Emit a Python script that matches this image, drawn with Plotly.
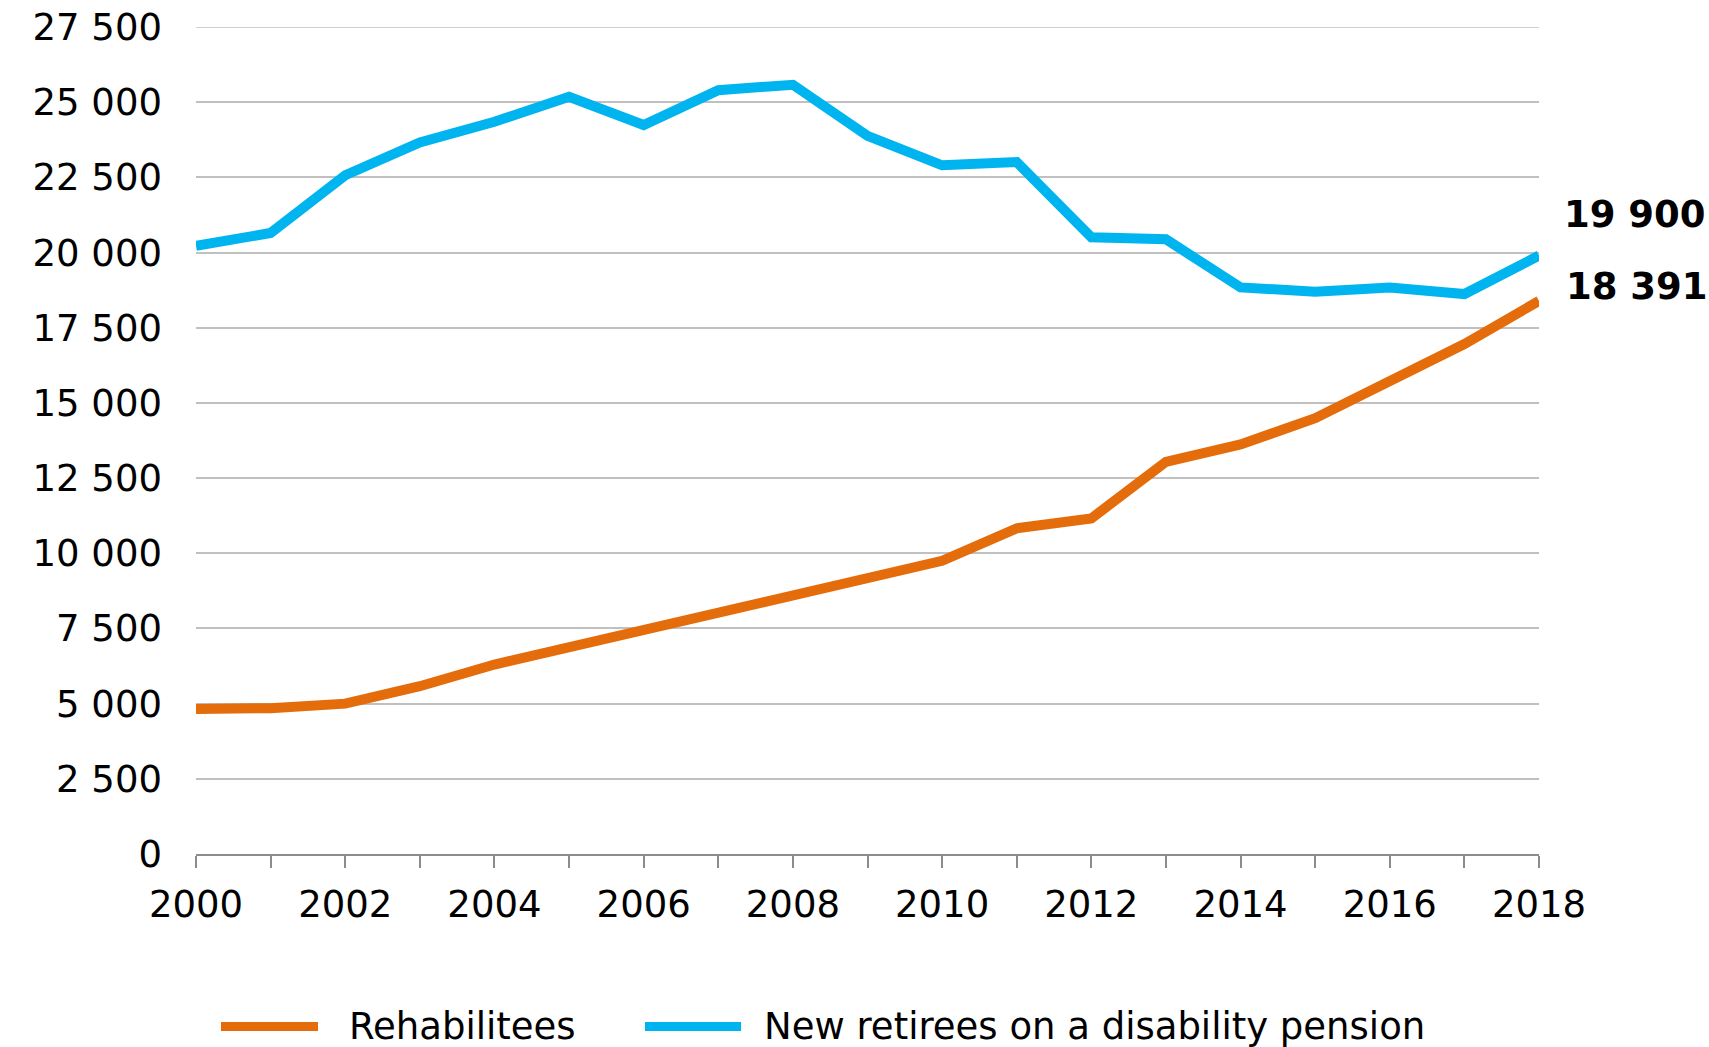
import plotly.graph_objects as go

years = list(range(2000, 2019))
rehabilitees = [4820, 4850, 5000, 5580, 6300, 6880, 7460, 8010, 8550, 9130,
                9750, 10830, 11160, 13040, 13620, 14490, 15760, 16960, 18391]
disability = [20220, 20650, 22570, 23660, 24350, 25180, 24240, 25400, 25580, 23880,
              22900, 23010, 20510, 20440, 18840, 18700, 18840, 18620, 19900]
series_names = ["Rehabilitees", "New retirees on a disability pension"]
colors = ["#E46C0A", "#00B5EF"]

FONT = "DejaVu Sans"
W, H = 1709, 1047
L, T = 196, 27
R = W - 1539
B = H - 854.5
pw, ph = W - L - R, H - T - B

fig = go.Figure()
for name, vals, c in zip(series_names, [rehabilitees, disability], colors):
    fig.add_trace(go.Scatter(x=years, y=vals, mode="lines", name=name,
                             line=dict(color=c, width=10), showlegend=False))

# top gridline at the range edge
fig.add_shape(type="line", xref="paper", yref="y", x0=0, x1=1, y0=27500, y1=27500,
              line=dict(color="#C0C0C0", width=1.5), layer="below")

# end labels
fig.add_annotation(x=years[-1], y=disability[-1], text=f"<b>{disability[-1]:,}</b>".replace(",", " "),
                   showarrow=False, xanchor="left", yanchor="middle", xshift=23, yshift=41,
                   font=dict(family=FONT, size=37, color="#000"))
fig.add_annotation(x=years[-1], y=rehabilitees[-1], text=f"<b>{rehabilitees[-1]:,}</b>".replace(",", " "),
                   showarrow=False, xanchor="left", yanchor="middle", xshift=25, yshift=14,
                   font=dict(family=FONT, size=37, color="#000"))

# custom legend (positions given in page pixels)
def px2x(p):
    return (p - L) / pw

def py2y(p):
    return (H - B - p) / ph

leg_y = py2y(1027)
legend_items = [(221, 318, 347), (645, 741, 762)]
for (x0, x1, tx), name, c in zip(legend_items, series_names, colors):
    fig.add_shape(type="line", xref="paper", yref="paper", x0=px2x(x0), x1=px2x(x1),
                  y0=leg_y, y1=leg_y, line=dict(color=c, width=9))
    fig.add_annotation(xref="paper", yref="paper", x=px2x(tx), y=leg_y, text=name,
                       showarrow=False, xanchor="left", yanchor="middle",
                       font=dict(family=FONT, size=37, color="#000"))

fig.update_layout(
    width=W, height=H,
    margin=dict(l=L, r=R, t=T, b=B, autoexpand=False),
    plot_bgcolor="white", paper_bgcolor="white",
    separators=". ",
    font=dict(family=FONT, size=37, color="#000"),
)
fig.update_xaxes(range=[2000, 2018], tickmode="linear", tick0=2000, dtick=2, tickformat="d",
                 showgrid=False, showline=True, linecolor="#8C8C8C", linewidth=2,
                 ticks="outside", ticklen=12, tickwidth=2, tickcolor="#8C8C8C",
                 minor=dict(ticks="outside", dtick=1, ticklen=12, tickwidth=2, tickcolor="#8C8C8C"),
                 ticklabelstandoff=5, zeroline=False, ticklabeloverflow="allow",
                 tickfont=dict(family=FONT, size=37, color="#000"))
fig.update_yaxes(range=[0, 27500], tickmode="linear", tick0=0, dtick=2500, tickformat=",d",
                 showgrid=True, gridcolor="#C0C0C0", gridwidth=1.5, zeroline=False,
                 showline=False, ticks="", ticklabelstandoff=33, ticklabeloverflow="allow",
                 tickfont=dict(family=FONT, size=37, color="#000"))

fig.write_html(
    "out.html",
    config={"displayModeBar": False},
    post_script="document.documentElement.style.margin='0';document.body.style.margin='0';"
                "document.body.style.overflow='hidden';",
)
